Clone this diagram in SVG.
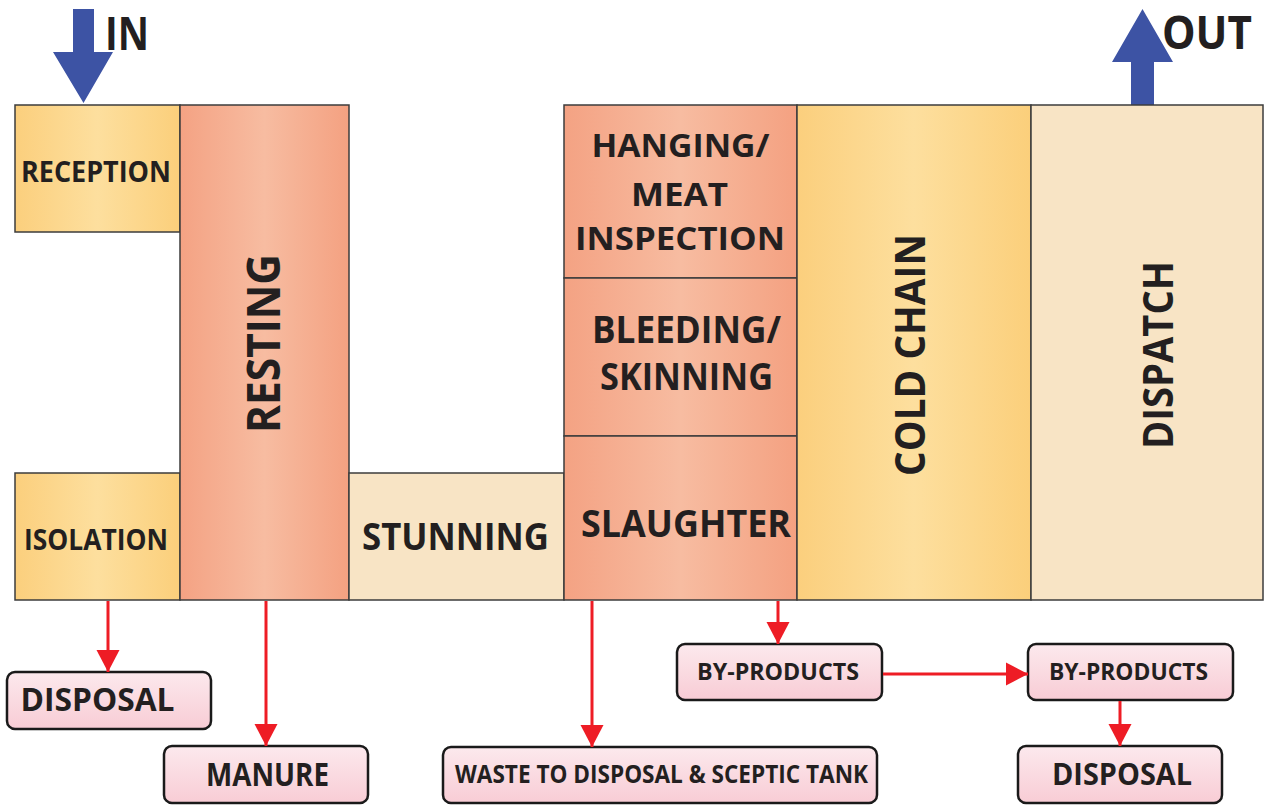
<svg xmlns="http://www.w3.org/2000/svg" width="1264" height="805" viewBox="0 0 1264 805">
<defs>
<linearGradient id="gY" x1="0" y1="0" x2="1" y2="0">
<stop offset="0" stop-color="#FBCF7D"/><stop offset="0.5" stop-color="#FDDF9E"/><stop offset="1" stop-color="#FBCF7B"/>
</linearGradient>
<linearGradient id="gS" x1="0" y1="0" x2="1" y2="0">
<stop offset="0" stop-color="#F4A283"/><stop offset="0.5" stop-color="#F7BCA1"/><stop offset="1" stop-color="#F4A181"/>
</linearGradient>
<linearGradient id="gP" x1="0" y1="0" x2="0" y2="1">
<stop offset="0" stop-color="#FCE9ED"/><stop offset="1" stop-color="#F8CCD5"/>
</linearGradient>
<marker id="ah" markerUnits="userSpaceOnUse" markerWidth="23" markerHeight="24" refX="22" refY="11.5" orient="auto" viewBox="0 0 23 23">
<path d="M0,0 L22,11.5 L0,23 z" fill="#EE1C25"/>
</marker>
<style>
.box{stroke:#3C3C3C;stroke-width:1.5}
.y{fill:url(#gY)}
.s{fill:url(#gS)}
.b{fill:#F8E4C5}
.pk{fill:url(#gP);stroke:#1A1A1A;stroke-width:2.5}
.t{font-family:"Open Sans","Liberation Sans",sans-serif;font-weight:bold;fill:#231F20;text-anchor:middle}
.c{stroke:#EE1C25;stroke-width:3;fill:none;marker-end:url(#ah)}
.blue{fill:#3D53A4}
</style>
</defs>

<g id="in-arrow">
<polygon class="blue" points="73,9 94,9 94,52 113,52 83.5,103 53,52 73,52"/>
<text class="t" x="127" y="50" font-size="46" textLength="44" lengthAdjust="spacingAndGlyphs">IN</text>
</g>
<g id="out-arrow">
<polygon class="blue" points="1142.5,9 1173,62 1154,62 1154,105 1131,105 1131,62 1112,62"/>
<text class="t" x="1207" y="49" font-size="46" textLength="90" lengthAdjust="spacingAndGlyphs">OUT</text>
</g>

<g id="reception">
<rect class="box y" x="15" y="105" width="165" height="127"/>
<text class="t" x="96" y="182" font-size="28" textLength="150" lengthAdjust="spacingAndGlyphs">RECEPTION</text>
</g>
<g id="isolation">
<rect class="box y" x="15" y="473" width="165" height="127"/>
<text class="t" x="96" y="550" font-size="28" textLength="144" lengthAdjust="spacingAndGlyphs">ISOLATION</text>
</g>
<g id="resting">
<rect class="box s" x="180" y="105" width="169" height="495"/>
<text class="t" transform="translate(280,343.5) rotate(-90)" x="0" y="0" font-size="46" textLength="179" lengthAdjust="spacingAndGlyphs">RESTING</text>
</g>
<g id="stunning">
<rect class="box b" x="349" y="473" width="215" height="127"/>
<text class="t" x="455.5" y="550" font-size="37" textLength="187" lengthAdjust="spacingAndGlyphs">STUNNING</text>
</g>
<g id="hanging">
<rect class="box s" x="564" y="105" width="233" height="173"/>
<text class="t" x="680.5" y="157" font-size="33" textLength="178" lengthAdjust="spacingAndGlyphs">HANGING/</text>
<text class="t" x="679.5" y="206" font-size="33" textLength="97" lengthAdjust="spacingAndGlyphs">MEAT</text>
<text class="t" x="680" y="250" font-size="33" textLength="210" lengthAdjust="spacingAndGlyphs">INSPECTION</text>
</g>
<g id="bleeding">
<rect class="box s" x="564" y="278" width="233" height="158"/>
<text class="t" x="686.5" y="343" font-size="37" textLength="189" lengthAdjust="spacingAndGlyphs">BLEEDING/</text>
<text class="t" x="686.5" y="390" font-size="37" textLength="173" lengthAdjust="spacingAndGlyphs">SKINNING</text>
</g>
<g id="slaughter">
<rect class="box s" x="564" y="436" width="233" height="164"/>
<text class="t" x="686" y="537" font-size="37" textLength="210" lengthAdjust="spacingAndGlyphs">SLAUGHTER</text>
</g>
<g id="cold-chain">
<rect class="box y" x="797" y="105" width="234" height="495"/>
<text class="t" transform="translate(925,355) rotate(-90)" x="0" y="0" font-size="42" textLength="242" lengthAdjust="spacingAndGlyphs">COLD CHAIN</text>
</g>
<g id="dispatch">
<rect class="box b" x="1031" y="105" width="232" height="495"/>
<text class="t" transform="translate(1173,355) rotate(-90)" x="0" y="0" font-size="42" textLength="188" lengthAdjust="spacingAndGlyphs">DISPATCH</text>
</g>

<g id="disposal-1">
<rect class="pk" x="7" y="672" width="204" height="57" rx="8"/>
<text class="t" x="97.5" y="711" font-size="32" textLength="154" lengthAdjust="spacingAndGlyphs">DISPOSAL</text>
</g>
<g id="manure">
<rect class="pk" x="164" y="746" width="204" height="57" rx="8"/>
<text class="t" x="267.5" y="786" font-size="32" textLength="123" lengthAdjust="spacingAndGlyphs">MANURE</text>
</g>
<g id="waste">
<rect class="pk" x="443" y="747" width="434" height="56" rx="8"/>
<text class="t" x="661.5" y="783" font-size="25" textLength="413" lengthAdjust="spacingAndGlyphs">WASTE TO DISPOSAL &amp; SCEPTIC TANK</text>
</g>
<g id="by-products-1">
<rect class="pk" x="677" y="644" width="205" height="56" rx="8"/>
<text class="t" x="778" y="680" font-size="24" textLength="162" lengthAdjust="spacingAndGlyphs">BY-PRODUCTS</text>
</g>
<g id="by-products-2">
<rect class="pk" x="1028" y="644" width="205" height="56" rx="8"/>
<text class="t" x="1128.5" y="680" font-size="24" textLength="159" lengthAdjust="spacingAndGlyphs">BY-PRODUCTS</text>
</g>
<g id="disposal-2">
<rect class="pk" x="1018" y="746" width="204" height="57" rx="8"/>
<text class="t" x="1122" y="785" font-size="30" textLength="140" lengthAdjust="spacingAndGlyphs">DISPOSAL</text>
</g>

<g id="connectors">
<line class="c" x1="108" y1="601" x2="108" y2="672"/>
<line class="c" x1="266" y1="601" x2="266" y2="746"/>
<line class="c" x1="592" y1="601" x2="592" y2="747"/>
<line class="c" x1="778" y1="601" x2="778" y2="644"/>
<line class="c" x1="883" y1="674" x2="1028" y2="674"/>
<line class="c" x1="1120" y1="701" x2="1120" y2="746"/>
</g>
</svg>
